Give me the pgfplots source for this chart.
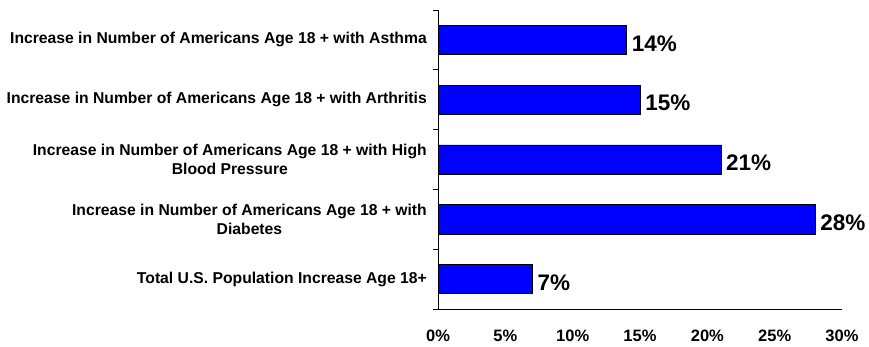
\documentclass[border=0pt]{standalone}
\usepackage{pgfplots}
\pgfplotsset{compat=1.18}
\usepackage{fontspec}
\setmainfont{Liberation Sans}
\definecolor{barblue}{RGB}{0,0,255}
\begin{document}
\begin{tikzpicture}[x=1pt,y=1pt]
\useasboundingbox (0,0) rectangle (869,346);
\begin{axis}[
  at={(438pt,37pt)}, anchor=south west,
  scale only axis, width=404pt, height=299pt,
  xbar, bar width=0.49,
  xmin=0, xmax=30, ymin=-0.5, ymax=4.5,
  clip=false,
  axis x line*=bottom, axis y line*=left,
  axis line style={black, line width=0.8pt},
  tick align=outside,
  major tick length=0pt, minor tick length=5pt,
  xtick={0,5,10,15,20,25,30},
  xticklabels={0\%,5\%,10\%,15\%,20\%,25\%,30\%},
  xticklabel style={font=\fontsize{16.5}{19}\bfseries\selectfont, anchor=north, inner sep=0pt, yshift=-21pt},
  x tick style={draw=none},
  ytick={0,1,2,3,4},
  yticklabels={
    {Total U.S. Population Increase Age 18+},
    {Increase in Number of Americans Age 18 + with\\Diabetes},
    {Increase in Number of Americans Age 18 + with High\\Blood Pressure},
    {Increase in Number of Americans Age 18 + with Arthritis},
    {Increase in Number of Americans Age 18 + with Asthma}},
  yticklabel style={font=\fontsize{15.7}{19}\bfseries\selectfont, align=center, anchor=east, inner sep=0pt, xshift=-11pt},
  minor ytick={-0.5,0.5,1.5,2.5,3.5,4.5},
  minor tick style={black, line width=0.8pt},
  point meta=x,
  nodes near coords={\pgfmathprintnumber[assume math mode=true]{\pgfplotspointmeta}\%},
  nodes near coords style={font=\fontsize{22.5}{26}\bfseries\selectfont, anchor=west, inner sep=0pt, xshift=5pt, yshift=-3.5pt},
]
\addplot[fill=barblue, draw=black, line width=0.6pt]
  coordinates {(7,0) (28,1) (21,2) (15,3) (14,4)};
\end{axis}
\end{tikzpicture}
\end{document}
